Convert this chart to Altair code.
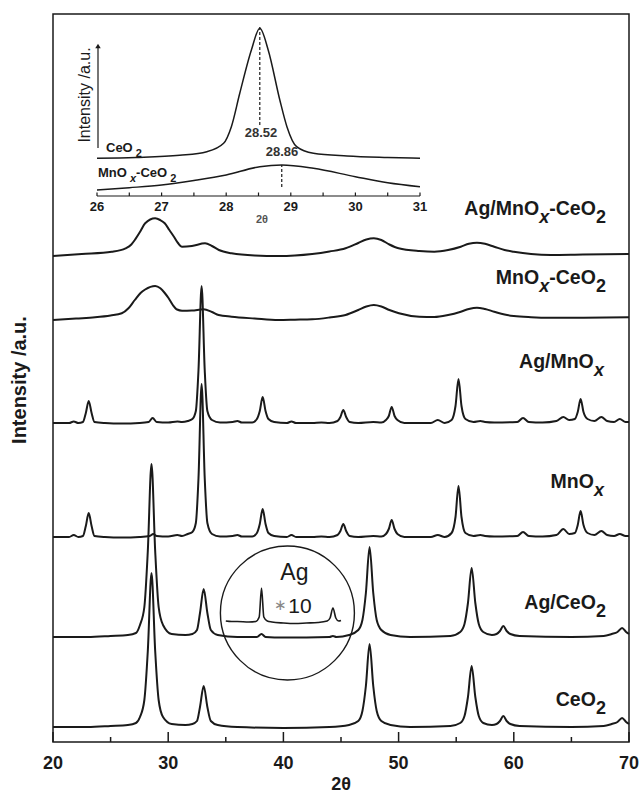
import altair as alt
import pandas as pd

INK = "#1a1a1a"

# ---------------- main XRD traces: (2theta, intensity above own baseline) ----------------
SAMPLES = ["CeO2", "Ag/CeO2", "MnOx", "Ag/MnOx", "MnOx-CeO2", "Ag/MnOx-CeO2"]
OFFSETS = [14, 104, 204, 318, 422, 485]

CEO2 = [(20.0, 1), (23.0, 1), (25.0, 2), (26.5, 3), (27.2, 5), (27.55, 11), (27.93, 28),
        (28.23, 77), (28.55, 155), (28.87, 77), (29.17, 28), (29.55, 11), (30.3, 4),
        (31.5, 3), (32.1, 4), (32.5, 7), (32.76, 21), (33.08, 42), (33.4, 21), (33.7, 7),
        (34.3, 3), (36.0, 1), (40.0, 0), (44.0, 1), (45.7, 3), (46.5, 7), (46.86, 17),
        (47.16, 42), (47.48, 84), (47.8, 42), (48.1, 17), (48.5, 7), (49.3, 3), (51.0, 1),
        (54.5, 2), (55.35, 5), (55.72, 12), (56.02, 31), (56.34, 62), (56.66, 31), (56.96, 12),
        (57.35, 5), (58.1, 3), (58.5, 4), (58.8, 7), (59.09, 12), (59.38, 7), (59.7, 4),
        (60.5, 2), (65.0, 1), (67.8, 2), (68.5, 4), (69.0, 6), (69.4, 10), (69.75, 6), (70.0, 4)]

AG_CEO2 = [(20.0, 1), (23.0, 1), (25.0, 2), (26.5, 3), (27.2, 5), (27.55, 13), (27.93, 31),
           (28.23, 87), (28.55, 174), (28.87, 87), (29.17, 31), (29.55, 13), (30.3, 4),
           (31.5, 3), (32.1, 4), (32.5, 8), (32.76, 25), (33.08, 49), (33.4, 25), (33.7, 8),
           (34.3, 3), (36.0, 1), (37.7, 1), (38.1, 4), (38.45, 1), (40.0, 0.5), (44.0, 1),
           (44.3, 2), (44.6, 1), (45.7, 3), (46.5, 8), (46.86, 18), (47.16, 45), (47.48, 91),
           (47.8, 45), (48.1, 18), (48.5, 8), (49.3, 3), (51.0, 1), (54.5, 2), (55.35, 6),
           (55.72, 14), (56.02, 35), (56.34, 70), (56.66, 35), (56.96, 14), (57.35, 6),
           (58.1, 3), (58.5, 4), (58.8, 7), (59.09, 12), (59.38, 7), (59.7, 4), (60.5, 2),
           (65.0, 1), (67.8, 2), (68.5, 4), (69.0, 6), (69.4, 10), (69.75, 6), (70.0, 4)]

MNOX = [(20.0, 1), (21.4, 1), (21.8, 3), (22.2, 1), (22.6, 2), (22.85, 12), (23.1, 25),
        (23.35, 12), (23.6, 2), (24.5, 1), (26.0, 0.5), (27.5, 1), (28.4, 2), (28.7, 4),
        (29.0, 2), (30.0, 1.5), (30.8, 3), (31.2, 2), (31.7, 4), (32.1, 6), (32.4, 15),
        (32.63, 60), (32.9, 154), (33.17, 60), (33.4, 15), (33.8, 4), (34.5, 1.5), (35.6, 2),
        (36.0, 3), (36.4, 1.5), (37.3, 1.5), (37.7, 5), (37.95, 14), (38.2, 29), (38.45, 14),
        (38.7, 5), (39.2, 2), (40.3, 1), (40.7, 3), (41.1, 1), (42.5, 1), (43.3, 1.5),
        (44.0, 1), (44.7, 3), (44.95, 7), (45.2, 14), (45.45, 7), (45.75, 2), (46.5, 1),
        (47.8, 2), (48.5, 1.5), (48.9, 4), (49.15, 9), (49.4, 18), (49.65, 9), (49.9, 4),
        (50.5, 1), (52.8, 1), (53.4, 3), (54.0, 1), (54.6, 5), (54.94, 21), (55.2, 52),
        (55.46, 21), (55.8, 5), (56.5, 2), (57.1, 3), (57.5, 2), (58.3, 1.5), (60.3, 2),
        (60.8, 6), (61.3, 2), (62.5, 1.5), (63.7, 3), (64.3, 9), (64.8, 4), (65.3, 5),
        (65.55, 13), (65.8, 27), (66.05, 13), (66.4, 5), (67.0, 3), (67.6, 7), (68.1, 3),
        (68.7, 2), (69.2, 4), (69.7, 2), (70.0, 2)]

AG_MNOX = [(20.0, 1), (21.4, 1), (21.8, 2.5), (22.2, 1), (22.6, 2), (22.85, 11), (23.1, 23),
           (23.35, 11), (23.6, 2), (24.5, 1), (26.0, 0.5), (27.5, 1), (28.3, 2), (28.65, 6),
           (29.0, 2), (30.0, 1.5), (30.8, 2.5), (31.2, 2), (31.7, 3), (32.1, 5), (32.4, 13),
           (32.63, 54), (32.9, 138), (33.17, 54), (33.4, 13), (33.8, 4), (34.5, 1.5),
           (35.6, 2), (36.0, 3), (36.4, 1.5), (37.3, 1.5), (37.7, 5), (37.95, 13), (38.2, 27),
           (38.45, 13), (38.7, 5), (39.2, 2), (40.3, 1), (40.7, 2.5), (41.1, 1), (42.5, 1),
           (43.3, 1.5), (44.0, 1), (44.7, 3), (44.95, 7), (45.2, 14), (45.45, 7), (45.75, 2),
           (46.5, 1), (47.8, 2), (48.5, 1.5), (48.9, 4), (49.15, 8), (49.4, 17), (49.65, 8),
           (49.9, 4), (50.5, 1), (52.8, 1), (53.4, 4), (54.0, 1), (54.6, 4), (54.94, 18),
           (55.2, 45), (55.46, 18), (55.8, 5), (56.5, 2), (57.1, 3), (57.5, 2), (58.3, 1.5),
           (60.3, 2), (60.8, 6), (61.3, 2), (62.5, 1.5), (63.7, 3), (64.3, 7), (64.8, 4),
           (65.3, 5), (65.55, 12), (65.8, 25), (66.05, 12), (66.4, 5), (67.0, 3), (67.6, 7),
           (68.1, 3), (68.7, 2), (69.2, 5), (69.7, 2), (70.0, 2)]

MNOX_CEO2 = [(20.0, 0), (22.0, 1.5), (23.65, 2.7), (25.0, 4.5), (25.97, 6.7), (26.55, 11.7),
             (27.1, 20), (27.6, 27), (28.0, 30.5), (28.87, 34), (29.32, 31.7), (29.7, 27),
             (30.04, 21.7), (30.4, 15), (30.77, 10.5), (31.2, 9.3), (32.06, 9.5), (33.07, 10.7),
             (33.8, 8), (34.38, 5), (35.5, 3.3), (37.5, 1.5), (39.57, 0), (41.0, 0.3),
             (42.5, 0.7), (44.0, 2.5), (45.4, 5), (46.5, 10), (47.2, 13.5), (47.85, 15),
             (48.5, 13.5), (49.2, 10), (50.03, 6.7), (51.8, 3.3), (53.1, 3), (54.3, 5),
             (55.4, 8.3), (56.1, 11), (56.8, 12.3), (57.5, 11), (58.3, 8.3), (59.2, 5.5),
             (60.0, 4), (61.5, 2.8), (63.2, 2.3), (66.0, 2.3), (70.0, 2.7)]

AG_MNOX_CEO2 = [(20.0, 1), (22.5, 3), (25.1, 5.3), (26.3, 8.7), (26.8, 12.5), (27.1, 17),
                (27.6, 26), (28.0, 33.7), (28.87, 38.7), (29.3, 37), (29.7, 33.7), (30.1, 27),
                (30.5, 20.3), (30.85, 14), (31.2, 10.3), (32.06, 11), (33.2, 13.7), (33.8, 11),
                (34.4, 7), (35.5, 3.7), (37.5, 1.5), (39.6, 1), (41.0, 1.5), (42.5, 3),
                (44.0, 5.5), (45.4, 8.7), (46.5, 14), (47.2, 17.5), (47.85, 18.7), (48.5, 17),
                (49.2, 12.5), (50.0, 8.7), (51.8, 6), (53.1, 5.3), (54.3, 7), (55.4, 10.3),
                (56.1, 13.2), (56.8, 14.3), (57.5, 13.2), (58.3, 10.3), (59.2, 7), (60.0, 5.3),
                (61.5, 3), (63.2, 2), (66.0, 2.5), (70.0, 3)]

TRACES = [CEO2, AG_CEO2, MNOX, AG_MNOX, MNOX_CEO2, AG_MNOX_CEO2]

# Ag reflections magnified x10 (drawn inside the circle)
AG10_BASE = 120
AG10 = [(35.0, 1), (35.5, 0.5), (36.0, 0.5), (37.0, 0), (37.6, 0.5), (37.9, 5), (38.1, 34),
        (38.3, 5), (38.6, 1), (39.0, 0), (40.0, -1), (41.0, -1.5), (42.0, -1), (43.0, -0.5),
        (43.8, 1), (44.05, 4), (44.3, 14), (44.55, 4), (44.8, 1), (45.0, 1.5)]

# ---------------- inset (26-31 deg) ----------------
INSET_CEO2 = [(26.0, 37.7), (26.6, 38.5), (27.28, 40.7), (27.7, 44.3), (27.96, 52.7),
              (28.08, 69.3), (28.21, 102.7), (28.39, 146), (28.52, 167.7), (28.65, 146),
              (28.83, 96), (28.94, 69.3), (29.09, 49.3), (29.35, 42.7), (29.87, 40),
              (30.5, 38.5), (31.0, 37.7)]
INSET_MNOX_CEO2 = [(26.0, 6), (26.5, 8.3), (27.0, 11), (27.5, 15.5), (28.0, 21), (28.52, 29.3),
                   (28.86, 31), (29.35, 27.7), (30.0, 19.3), (30.5, 13.3), (31.0, 9.3)]
INSET_PEAKS = [28.52, 28.86]
INSET_PEAK_TOP = [171, 31]
INSET_PEAK_BOTTOM = [71, 9]
INSET_PEAK_TEXT = ["28.52", "28.86"]

MAJOR_TICKS = [20, 30, 40, 50, 60, 70]
MINOR_TICKS = [25, 35, 45, 55, 65]
INSET_TICKS = [26, 26.5, 27, 27.5, 28, 28.5, 29, 29.5, 30, 30.5, 31]
INSET_TICK_LABELS = [26, 27, 28, 29, 30, 31]

# ---------------- helpers for label layout ----------------
W_BOLD = {'A': .722, 'g': .611, '/': .278, 'M': .833, 'n': .611, 'O': .778, '-': .333,
          'C': .722, 'e': .556, 'x': .556, '2': .556, ' ': .278}


def main_to_data(px, py):
    return 20 + (px - 53) / 11.5, 742 - py


def inset_to_data(px, py):
    return 26 + (px - 97) / 64.6, 196 - py


def piece_rows(parts, anchor_px, base_px, size, sub_size, shift, to_data, right=True):
    sizes = [size if k == 'm' else sub_size for _, k in parts]
    widths = [sum(W_BOLD[c] for c in t) * s for (t, _), s in zip(parts, sizes)]
    x = anchor_px - sum(widths) if right else anchor_px
    rows = []
    for (t, k), w, s in zip(parts, widths, sizes):
        lead = (len(t) - len(t.lstrip(' '))) * W_BOLD[' '] * s
        dx, dy = to_data(x + lead, base_px + (0 if k == 'm' else shift))
        rows.append({'t': t.strip(), 'k': k, 'x': dx, 'y': dy})
        x += w
    return rows


TRACE_LABELS = [
    ([("Ag/MnO", 'm'), ("x", 'i'), ("-CeO", 'm'), ("2", 's')], 605, 215),
    ([("MnO", 'm'), ("x", 'i'), ("-CeO", 'm'), ("2", 's')], 605, 284),
    ([("Ag/MnO", 'm'), ("x", 'i')], 603, 368),
    ([("MnO", 'm'), ("x", 'i')], 603, 488),
    ([("Ag/CeO", 'm'), ("2", 's')], 605, 609),
    ([("CeO", 'm'), ("2", 's')], 605, 706),
]
INSET_LABELS = [
    ([("CeO", 'm'), (" 2", 's')], 106, 151.7),
    ([("MnO", 'm'), (" x", 'i'), ("-CeO", 'm'), (" 2", 's')], 98, 176.7),
]

# ---------------- main layer ----------------
XS = alt.Scale(domain=[20, 70], nice=False, zero=False)
YS = alt.Scale(domain=[0, 728], nice=False, zero=False)

main_df = pd.DataFrame([{'sample': s, 'x': x, 'y': y + off}
                        for s, tr, off in zip(SAMPLES, TRACES, OFFSETS) for x, y in tr])
ag10_df = pd.DataFrame([{'x': x, 'y': y + AG10_BASE} for x, y in AG10])

traces = alt.Chart(main_df).mark_line(interpolate='monotone', color=INK, strokeWidth=2).encode(
    x=alt.X('x:Q', scale=XS, axis=None),
    y=alt.Y('y:Q', scale=YS, axis=None),
    detail='sample:N')

ag10 = alt.Chart(ag10_df).mark_line(interpolate='monotone', color=INK, strokeWidth=1.6).encode(
    x=alt.X('x:Q', scale=XS, axis=None), y=alt.Y('y:Q', scale=YS, axis=None))

maj = alt.Chart(pd.DataFrame({'x': MAJOR_TICKS})).mark_rule(color=INK, strokeWidth=1.5).encode(
    x=alt.X('x:Q', scale=XS, axis=None), y=alt.value(728), y2=alt.value(718))
mnr = alt.Chart(pd.DataFrame({'x': MINOR_TICKS})).mark_rule(color=INK, strokeWidth=1.5).encode(
    x=alt.X('x:Q', scale=XS, axis=None), y=alt.value(728), y2=alt.value(723))
tick_lab = alt.Chart(pd.DataFrame({'x': MAJOR_TICKS})).mark_text(
    fontSize=18, fontWeight='bold', color=INK, align='center', baseline='middle').encode(
    x=alt.X('x:Q', scale=XS, axis=None), y=alt.value(749.5), text='x:Q')
x_title = alt.Chart(pd.DataFrame({'t': ['2θ']})).mark_text(
    fontSize=18, fontWeight='bold', color=INK, align='center', baseline='middle').encode(
    x=alt.value(288), y=alt.value(771), text='t:N')
y_title = alt.Chart(pd.DataFrame({'t': ['Intensity /a.u.']})).mark_text(
    fontSize=20, fontWeight='bold', color=INK, angle=270, align='center', baseline='middle').encode(
    x=alt.value(-33), y=alt.value(366), text='t:N')

cx, cy = main_to_data(287, 613)
circle = alt.Chart(pd.DataFrame({'x': [cx], 'y': [cy]})).mark_point(
    shape='circle', filled=False, size=134 ** 2, color=INK, strokeWidth=1.4, opacity=1).encode(
    x=alt.X('x:Q', scale=XS, axis=None), y=alt.Y('y:Q', scale=YS, axis=None))

lab_rows = []
for parts, rx, by in TRACE_LABELS:
    lab_rows += piece_rows(parts, rx, by, 19.5, 18, 8, main_to_data)
lab_df = pd.DataFrame(lab_rows)


def text_layer(df, scale_x, scale_y, **kw):
    return alt.Chart(df).mark_text(color=INK, align='left', baseline='alphabetic', **kw).encode(
        x=alt.X('x:Q', scale=scale_x, axis=None), y=alt.Y('y:Q', scale=scale_y, axis=None),
        text='t:N')


lab_m = text_layer(lab_df[lab_df.k == 'm'], XS, YS, fontSize=19.5, fontWeight='bold')
lab_s = text_layer(lab_df[lab_df.k == 's'], XS, YS, fontSize=18, fontWeight='bold')
lab_i = text_layer(lab_df[lab_df.k == 'i'], XS, YS, fontSize=18, fontWeight='bold', fontStyle='italic')

agx, agy = main_to_data(294, 580)
tx, ty = main_to_data(299.5, 612.7)
sx, sy = main_to_data(280, 605)
ag_txt = alt.Chart(pd.DataFrame({'x': [agx], 'y': [agy], 't': ['Ag']})).mark_text(
    fontSize=23, color=INK, align='center', baseline='alphabetic').encode(
    x=alt.X('x:Q', scale=XS, axis=None), y=alt.Y('y:Q', scale=YS, axis=None), text='t:N')
ten_txt = alt.Chart(pd.DataFrame({'x': [tx], 'y': [ty], 't': ['10']})).mark_text(
    fontSize=21, color=INK, align='center', baseline='alphabetic').encode(
    x=alt.X('x:Q', scale=XS, axis=None), y=alt.Y('y:Q', scale=YS, axis=None), text='t:N')
star_txt = alt.Chart(pd.DataFrame({'x': [sx], 'y': [sy], 't': ['∗']})).mark_text(
    fontSize=15, color='#888888', align='center', baseline='middle').encode(
    x=alt.X('x:Q', scale=XS, axis=None), y=alt.Y('y:Q', scale=YS, axis=None), text='t:N')

main = alt.layer(traces, ag10, maj, mnr, tick_lab, x_title, y_title, circle,
                 lab_m, lab_s, lab_i, ag_txt, ten_txt, star_txt)

# ---------------- inset layer ----------------
XI = alt.Scale(domain=[26, 31], range=[44, 367], nice=False, zero=False)
YI = alt.Scale(domain=[0, 180], range=[182, 2], nice=False, zero=False)

inset_df = pd.DataFrame([{'sample': 'CeO2', 'x': x, 'y': y} for x, y in INSET_CEO2] +
                        [{'sample': 'MnOx-CeO2', 'x': x, 'y': y} for x, y in INSET_MNOX_CEO2])
in_lines = alt.Chart(inset_df).mark_line(interpolate='monotone', color=INK, strokeWidth=1.5).encode(
    x=alt.X('x:Q', scale=XI, axis=None), y=alt.Y('y:Q', scale=YI, axis=None), detail='sample:N')

in_dash = alt.Chart(pd.DataFrame({'x': INSET_PEAKS, 'y1': INSET_PEAK_BOTTOM, 'y2': INSET_PEAK_TOP})).mark_rule(
    color=INK, strokeWidth=1.2, strokeDash=[3, 2]).encode(
    x=alt.X('x:Q', scale=XI, axis=None), y=alt.Y('y1:Q', scale=YI, axis=None), y2='y2:Q')

pk_rows = []
for xv, lbl, (px, py) in zip(INSET_PEAKS, INSET_PEAK_TEXT, [(261, 133), (282, 152)]):
    dx, dy = inset_to_data(px, py)
    pk_rows.append({'x': dx, 'y': dy, 't': lbl})
in_pk = alt.Chart(pd.DataFrame(pk_rows)).mark_text(
    fontSize=13, fontWeight='bold', color='#333333', align='center', baseline='middle').encode(
    x=alt.X('x:Q', scale=XI, axis=None), y=alt.Y('y:Q', scale=YI, axis=None), text='t:N')

in_axis = alt.Chart(pd.DataFrame({'x': [INSET_TICKS[0]], 'x2': [INSET_TICKS[-1]]})).mark_rule(
    color=INK, strokeWidth=1.2).encode(
    x=alt.X('x:Q', scale=XI, axis=None), x2='x2:Q', y=alt.value(182))
in_ticks = alt.Chart(pd.DataFrame({'x': INSET_TICKS})).mark_rule(color=INK, strokeWidth=1.2).encode(
    x=alt.X('x:Q', scale=XI, axis=None), y=alt.value(182), y2=alt.value(178.5))
in_tlab = alt.Chart(pd.DataFrame({'x': INSET_TICK_LABELS})).mark_text(
    fontSize=13, fontWeight='bold', color=INK, align='center', baseline='middle').encode(
    x=alt.X('x:Q', scale=XI, axis=None), y=alt.value(193), text='x:Q')
in_title = alt.Chart(pd.DataFrame({'t': ['2θ']})).mark_text(
    fontSize=11, fontWeight='bold', color='#555555', align='center', baseline='middle').encode(
    x=alt.value(262 - 53), y=alt.value(220 - 14), text='t:N')
in_arrow = alt.Chart(pd.DataFrame({'t': [0]})).mark_rule(color=INK, strokeWidth=1.2).encode(
    x=alt.value(45), y=alt.value(134), y2=alt.value(32))
in_head = alt.Chart(pd.DataFrame({'t': [0]})).mark_point(
    shape='triangle-up', filled=True, size=30, color=INK, opacity=1).encode(
    x=alt.value(45), y=alt.value(32))
in_ylab = alt.Chart(pd.DataFrame({'t': ['Intensity /a.u.']})).mark_text(
    fontSize=16, color=INK, angle=270, align='center', baseline='middle').encode(
    x=alt.value(85 - 53), y=alt.value(95 - 14), text='t:N')

in_rows = []
for parts, lx, by in INSET_LABELS:
    in_rows += piece_rows(parts, lx, by, 13, 11, 5.5, inset_to_data, right=False)
in_lab_df = pd.DataFrame(in_rows)
in_m = text_layer(in_lab_df[in_lab_df.k == 'm'], XI, YI, fontSize=13, fontWeight='bold')
in_s = text_layer(in_lab_df[in_lab_df.k == 's'], XI, YI, fontSize=11, fontWeight='bold')
in_i = text_layer(in_lab_df[in_lab_df.k == 'i'], XI, YI, fontSize=11, fontWeight='bold', fontStyle='italic')

inset = alt.layer(in_lines, in_dash, in_pk, in_axis, in_ticks, in_tlab, in_title,
                  in_arrow, in_head, in_ylab, in_m, in_s, in_i)

chart = alt.layer(main, inset).resolve_scale(x='independent', y='independent').properties(
    width=576, height=728,
    padding={'left': 53, 'top': 14, 'right': 13, 'bottom': 53},
    autosize=alt.AutoSizeParams(type='none'),
).configure(font='Liberation Sans').configure_view(stroke=INK, strokeWidth=1.5)

chart.save("out.html", embed_options={"renderer": "svg", "actions": False})
